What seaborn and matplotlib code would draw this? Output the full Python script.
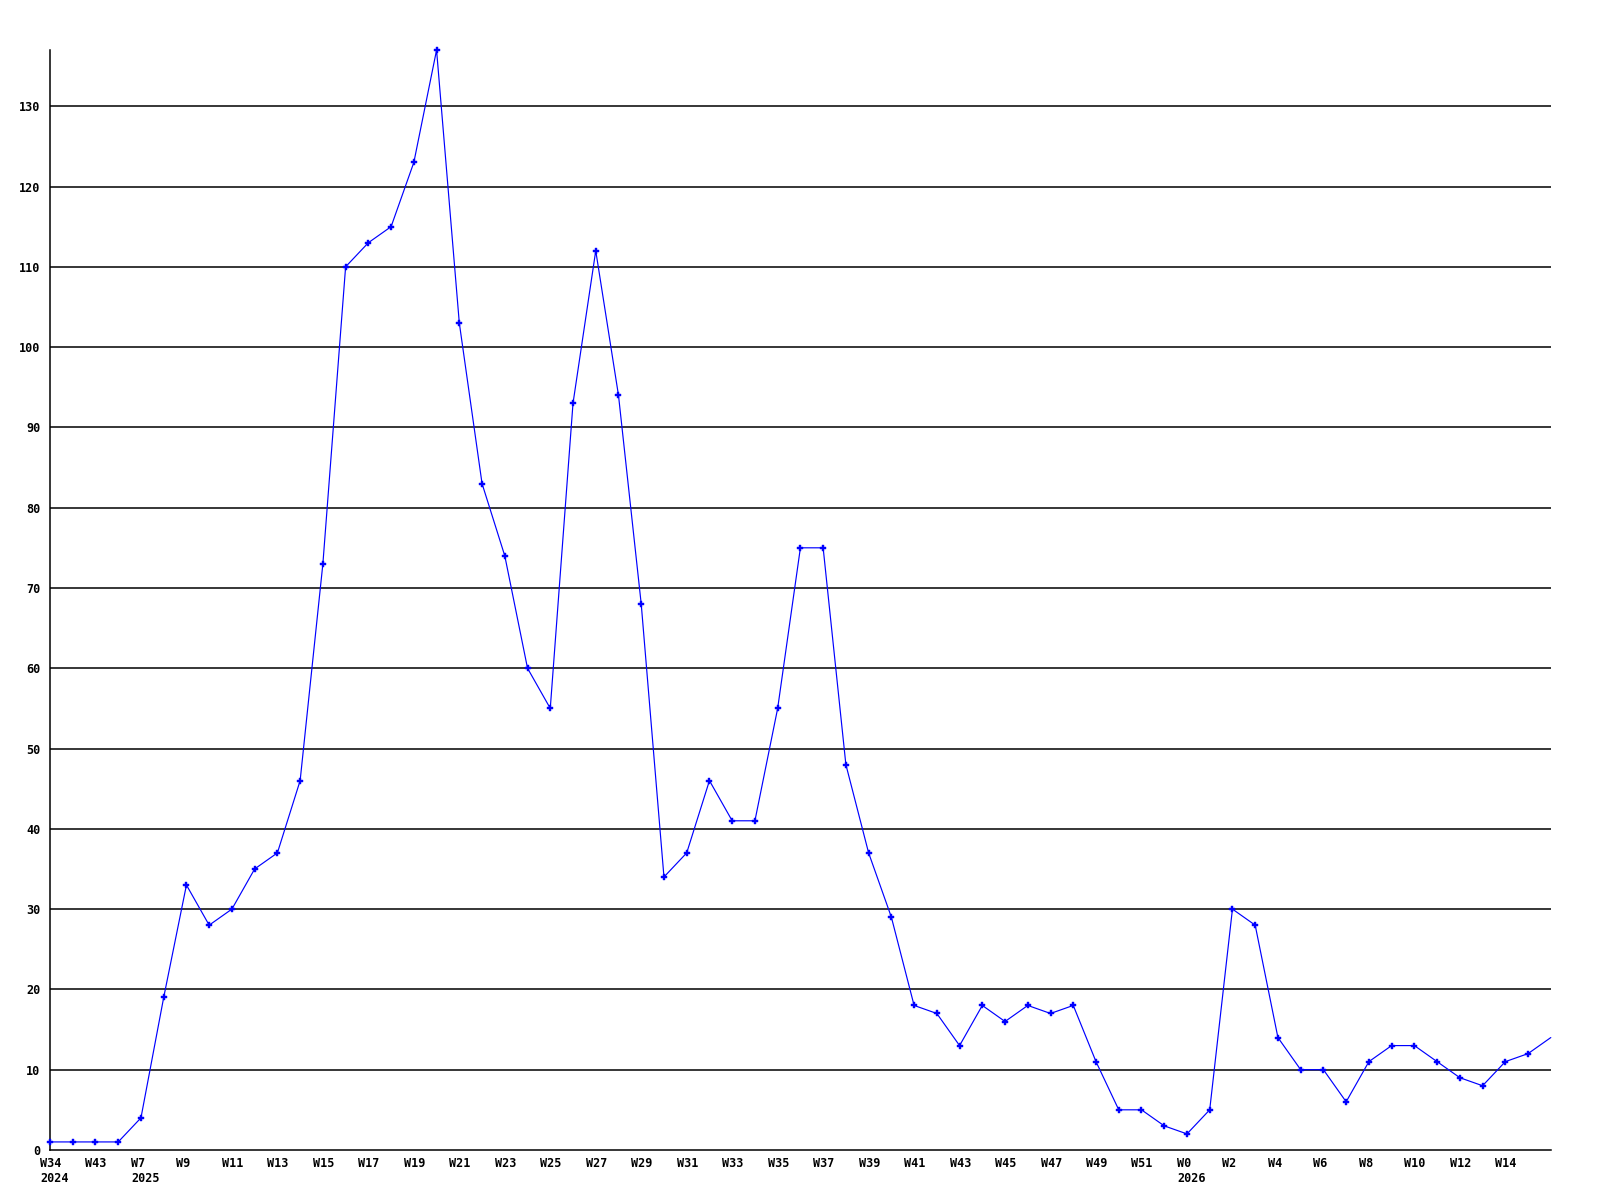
import matplotlib
matplotlib.use("Agg")
import matplotlib.pyplot as plt
import matplotlib.transforms as mtransforms
import seaborn as sns
import pandas as pd

values = [1, 1, 1, 1, 4, 19, 33, 28, 30, 35, 37, 46, 73, 110, 113, 115, 123, 137,
          103, 83, 74, 60, 55, 93, 112, 94, 68, 34, 37, 46, 41, 41, 55, 75, 75, 48,
          37, 29, 18, 17, 13, 18, 16, 18, 17, 18, 11, 5, 5, 3, 2, 5, 30, 28, 14,
          10, 10, 6, 11, 13, 13, 11, 9, 8, 11, 12, 14]

tick_labels = ["W34\n2024", "W43", "W7\n2025"] + [f"W{w}" for w in range(9, 52, 2)] \
    + ["W0\n2026"] + [f"W{w}" for w in range(2, 15, 2)]
y_ticks = list(range(0, 131, 10))

df = pd.DataFrame({"x": range(len(values)), "y": values})

sns.set_theme(style="white")
plt.rcParams["font.family"] = ["DejaVu Sans Mono"]

fig = plt.figure(figsize=(16, 12), dpi=100)
ax = fig.add_axes([0.03125, 0.0417, 0.938, 0.9166])

sns.lineplot(data=df, x="x", y="y", ax=ax, color="#0000ff", linewidth=0.85,
             marker="P", markersize=4.5, markeredgewidth=0.3,
             markerfacecolor="#0000ff", markeredgecolor="#0000ff",
             markevery=list(range(len(values) - 1)),
             clip_on=False, zorder=3)

ax.set_xlim(0, len(values) - 1)
ax.set_ylim(0, 137)
ax.set_yticks(y_ticks)
ax.set_yticklabels([str(v) for v in y_ticks], fontsize=8.5, fontweight="bold")
ax.set_xticks([])

trans = mtransforms.blended_transform_factory(ax.transData, ax.transAxes) + \
    mtransforms.ScaledTranslation(-0.10, -0.07, fig.dpi_scale_trans)
for i, lbl in enumerate(tick_labels):
    ax.text(2 * i, 0, lbl, transform=trans, ha="left", va="top",
            multialignment="left", fontsize=8.5, fontweight="bold",
            linespacing=1.25, color="black")

ax.tick_params(axis="both", length=0, colors="black")
ax.tick_params(axis="y", pad=7)
ax.set_xlabel("")
ax.set_ylabel("")
ax.grid(False)
for v in y_ticks[1:]:
    ax.axhline(v, color="black", linewidth=1.1, zorder=1)

for s in ["top", "right"]:
    ax.spines[s].set_visible(False)
for s in ["left", "bottom"]:
    ax.spines[s].set_color("black")
    ax.spines[s].set_linewidth(1.1)

fig.savefig("out.png", dpi=100, facecolor="white")
